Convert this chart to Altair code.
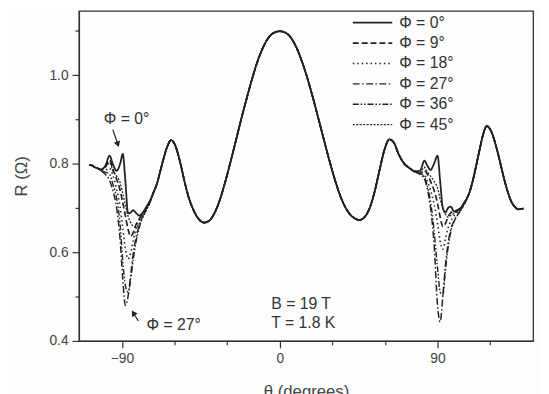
import altair as alt
import pandas as pd

PHI_LABELS = ["Φ = 0°", "Φ = 9°", "Φ = 18°", "Φ = 27°", "Φ = 36°", "Φ = 45°"]
DASHES = [[1, 0], [6, 3], [1.5, 3], [7, 2.5, 1.5, 2.5], [6, 2, 1.5, 2, 1.5, 2], [2, 1.5]]
WIDTHS = [1.8, 1.3, 1.3, 1.3, 1.3, 1.3]

# common start (all Φ)
start_theta = [-108.5, -107, -105.5]
start_r = [0.797, 0.796, 0.792]

# region around θ = -90 where the curves differ
left_theta = [-104, -102, -99.5, -97, -95, -93, -91, -89.5, -88, -86.5, -85, -83.5, -82, -80, -78, -76, -74]
left_r = {
    "Φ = 0°":  [0.790, 0.787, 0.795, 0.818, 0.797, 0.784, 0.800, 0.822, 0.760, 0.688, 0.690, 0.695, 0.689, 0.683, 0.690, 0.703, 0.717],
    "Φ = 9°":  [0.790, 0.786, 0.792, 0.808, 0.786, 0.765, 0.740, 0.712, 0.682, 0.652, 0.636, 0.645, 0.662, 0.676, 0.688, 0.700, 0.714],
    "Φ = 18°": [0.790, 0.786, 0.786, 0.790, 0.772, 0.742, 0.702, 0.655, 0.608, 0.585, 0.598, 0.628, 0.652, 0.672, 0.686, 0.699, 0.714],
    "Φ = 27°": [0.790, 0.784, 0.776, 0.762, 0.737, 0.700, 0.628, 0.540, 0.480, 0.500, 0.548, 0.598, 0.632, 0.662, 0.683, 0.699, 0.714],
    "Φ = 36°": [0.790, 0.785, 0.781, 0.776, 0.752, 0.722, 0.662, 0.580, 0.525, 0.510, 0.538, 0.585, 0.622, 0.657, 0.680, 0.697, 0.713],
    "Φ = 45°": [0.790, 0.787, 0.792, 0.802, 0.783, 0.772, 0.757, 0.733, 0.706, 0.682, 0.667, 0.659, 0.656, 0.664, 0.680, 0.695, 0.712],
}

# common middle part (all Φ)
mid_theta = [-72, -70, -68, -66, -64, -62, -60, -58, -56, -54, -52, -50, -48, -45.5, -43, -40, -37, -34, -31,
             -28, -25, -22, -19, -16, -13, -10, -7, -4, 0, 4, 7, 10, 13, 16, 19, 22, 25, 28, 31, 34, 37, 40,
             43, 45.5, 48, 51, 54, 57, 60, 62.5, 65, 68, 71, 74]
mid_r = [0.735, 0.755, 0.785, 0.815, 0.840, 0.853, 0.845, 0.822, 0.790, 0.755, 0.725, 0.703, 0.686, 0.672,
         0.667, 0.672, 0.690, 0.720, 0.760, 0.805, 0.852, 0.900, 0.945, 0.988, 1.027, 1.058, 1.081, 1.094,
         1.099, 1.094, 1.081, 1.058, 1.027, 0.990, 0.948, 0.903, 0.857, 0.812, 0.770, 0.733, 0.705, 0.686,
         0.676, 0.673, 0.678, 0.697, 0.735, 0.787, 0.835, 0.855, 0.848, 0.820, 0.800, 0.790]

# region around θ = +90 where the curves differ
right_theta = [77, 80, 82.5, 84, 86, 88, 90, 91.5, 93, 94.5, 96, 97.5, 99.5, 102, 104, 106]
right_r = {
    "Φ = 0°":  [0.783, 0.784, 0.807, 0.797, 0.786, 0.800, 0.818, 0.760, 0.700, 0.690, 0.700, 0.703, 0.692, 0.695, 0.704, 0.717],
    "Φ = 9°":  [0.782, 0.778, 0.785, 0.778, 0.760, 0.740, 0.710, 0.680, 0.658, 0.665, 0.680, 0.689, 0.693, 0.697, 0.705, 0.717],
    "Φ = 18°": [0.782, 0.777, 0.775, 0.762, 0.740, 0.710, 0.665, 0.625, 0.607, 0.630, 0.655, 0.670, 0.683, 0.693, 0.703, 0.716],
    "Φ = 27°": [0.782, 0.776, 0.766, 0.746, 0.700, 0.620, 0.480, 0.443, 0.500, 0.570, 0.620, 0.650, 0.672, 0.688, 0.700, 0.714],
    "Φ = 36°": [0.782, 0.777, 0.770, 0.752, 0.715, 0.650, 0.565, 0.510, 0.503, 0.560, 0.610, 0.645, 0.670, 0.687, 0.700, 0.714],
    "Φ = 45°": [0.782, 0.780, 0.792, 0.782, 0.772, 0.760, 0.745, 0.720, 0.700, 0.686, 0.679, 0.683, 0.688, 0.695, 0.704, 0.716],
}

# common end (all Φ)
end_theta = [108, 110, 112, 114, 116, 118, 120, 122, 124, 126, 128, 130, 132, 134, 136, 139]
end_r = [0.733, 0.760, 0.795, 0.832, 0.866, 0.885, 0.878, 0.858, 0.830, 0.798, 0.765, 0.737, 0.715, 0.703, 0.697, 0.699]

# axis ticks
MAJOR_X = [-90, 0, 90]
MINOR_X = [-60, -30, 30, 60, 120]
MAJOR_Y = [0.4, 0.6, 0.8, 1.0]
MINOR_Y = [0.5, 0.7, 0.9, 1.1]

# annotations
ann_text = ["Φ = 0°", "Φ = 27°", "B = 19 T", "T = 1.8 K"]
ann_theta = [-100.3, -76.0, -4.8, -4.8]
ann_r = [0.900, 0.436, 0.484, 0.440]

arrow_theta1 = [-95.2, -80.6]
arrow_r1 = [0.877, 0.445]
arrow_theta2 = [-92.3, -83.5]
arrow_r2 = [0.844, 0.463]
arrow_angle = [160, 326]

rows = []
for lab in PHI_LABELS:
    ts = start_theta + left_theta + mid_theta + right_theta + end_theta
    rs = start_r + left_r[lab] + mid_r + right_r[lab] + end_r
    for t, r in zip(ts, rs):
        rows.append({"theta": t, "R": r, "phi": lab})
df = pd.DataFrame(rows)

ann_df = pd.DataFrame({"theta": ann_theta, "R": ann_r, "label": ann_text})
arr_df = pd.DataFrame({"t1": arrow_theta1, "r1": arrow_r1, "t2": arrow_theta2, "r2": arrow_r2, "angle": arrow_angle})

FONT = "Liberation Sans"
INK = "#222222"
xscale = alt.Scale(domain=[-114.5, 144.5], nice=False, zero=False)
yscale = alt.Scale(domain=[0.4, 1.145], nice=False, zero=False)

lines = alt.Chart(df).mark_line(interpolate="monotone", color=INK).encode(
    x=alt.X("theta:Q", scale=xscale,
            axis=alt.Axis(values=MAJOR_X, title="θ (degrees)", tickSize=7, labelPadding=4,
                          titlePadding=18, grid=False, orient="bottom")),
    y=alt.Y("R:Q", scale=yscale,
            axis=alt.Axis(values=MAJOR_Y, format=".1f", title="R (Ω)", tickSize=7, labelPadding=4,
                          titlePadding=19, grid=False, orient="left")),
    strokeDash=alt.StrokeDash("phi:N", sort=PHI_LABELS,
                              scale=alt.Scale(domain=PHI_LABELS, range=DASHES),
                              legend=alt.Legend(title=None, orient="none", legendX=305, legendY=3,
                                                symbolType="M-4.5,0H0.5", symbolSize=256,
                                                symbolStrokeWidth=1.3, symbolStrokeColor=INK,
                                                labelFont=FONT, labelFontSize=16, labelColor="#333333",
                                                labelOffset=2, rowPadding=3.7)),
    strokeWidth=alt.StrokeWidth("phi:N", sort=PHI_LABELS,
                                scale=alt.Scale(domain=PHI_LABELS, range=WIDTHS), legend=None),
)

texts = alt.Chart(ann_df).mark_text(align="left", baseline="middle", font=FONT, fontSize=16,
                                    color="#333333").encode(
    x=alt.X("theta:Q", scale=xscale,
            axis=alt.Axis(values=MINOR_X, labels=False, tickSize=4, title=None, domain=False,
                          grid=False, orient="bottom")),
    y=alt.Y("R:Q", scale=yscale,
            axis=alt.Axis(values=MINOR_Y, labels=False, tickSize=4, title=None, domain=False,
                          grid=False, orient="left")),
    text="label:N",
)

arrows = alt.Chart(arr_df).mark_rule(color=INK, strokeWidth=1.2).encode(
    x=alt.X("t1:Q", scale=xscale, axis=None),
    y=alt.Y("r1:Q", scale=yscale, axis=None),
    x2="t2:Q",
    y2="r2:Q",
)

heads = alt.Chart(arr_df).mark_point(shape="triangle-up", filled=True, size=45, color=INK,
                                     opacity=1).encode(
    x=alt.X("t2:Q", scale=xscale, axis=None),
    y=alt.Y("r2:Q", scale=yscale, axis=None),
    angle=alt.Angle("angle:Q", scale=None),
)

chart = alt.layer(lines, texts, arrows, heads).resolve_axis(
    x="independent", y="independent"
).properties(
    width=461, height=335,
    padding={"left": 72, "top": 0, "right": 8, "bottom": 52},
    autosize=alt.AutoSizeParams(type="none"),
).configure(
    background="#fdfdfd",
).configure_view(
    stroke="#333333", strokeWidth=1.3,
).configure_axis(
    domainColor="#333333", domainWidth=1.3, tickColor="#333333", tickWidth=1.2,
    labelFont=FONT, labelFontSize=14, labelColor="#444444",
    titleFont=FONT, titleFontSize=17, titleFontWeight="normal", titleColor="#444444",
)

chart.save("out.html", embed_options={"renderer": "svg", "actions": False})
